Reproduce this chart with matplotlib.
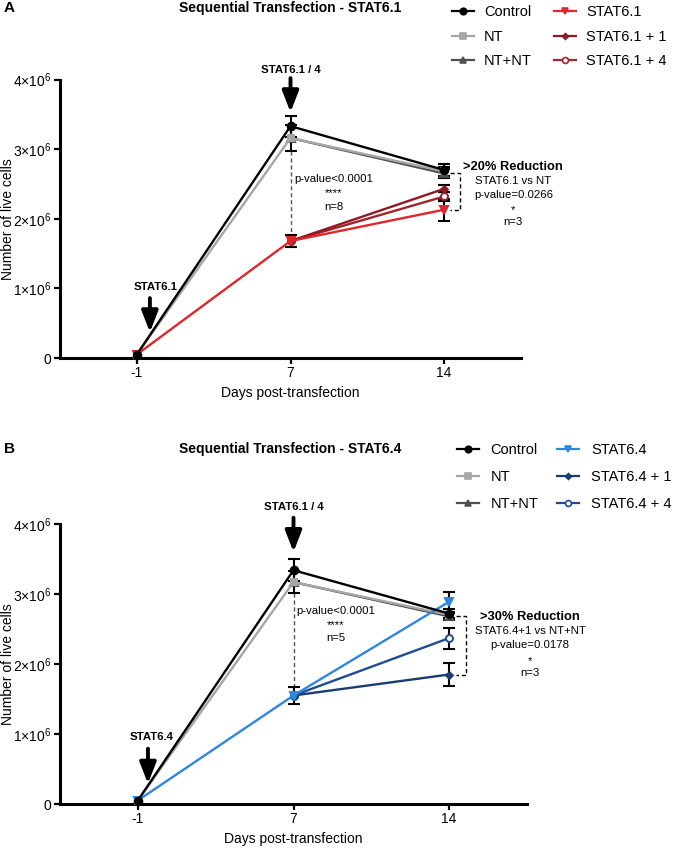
import numpy as np
import matplotlib
matplotlib.use("Agg")
import matplotlib.pyplot as plt
from matplotlib.lines import Line2D

plt.rcParams['font.family'] = ['Liberation Sans', 'DejaVu Sans']
plt.rcParams['mathtext.fontset'] = 'custom'
plt.rcParams['mathtext.rm'] = 'Liberation Sans'
plt.rcParams['mathtext.it'] = 'Liberation Sans:italic'
plt.rcParams['mathtext.bf'] = 'Liberation Sans:bold'

# ---------------- data ----------------
days = ["-1", "7", "14"]
ytick_vals = [0, 1e6, 2e6, 3e6, 4e6]
ytick_labels = ["0", "1×10$^{6}$", "2×10$^{6}$", "3×10$^{6}$", "4×10$^{6}$"]

# Panel A (STAT6.1)
a_control = [0.05e6, 3.33e6, 2.70e6]
a_control_err = [0, 0.15e6, 0.08e6]
a_nt = [0.05e6, 3.16e6, 2.68e6]
a_nt_err = [0, 0.18e6, 0.06e6]
a_ntnt = [np.nan, 3.16e6, 2.65e6]
a_ntnt_err = [0, 0, 0.06e6]
a_s1 = [0.05e6, 1.68e6, 2.13e6]
a_s1_err = [0, 0.08e6, 0.16e6]
a_s1p1 = [np.nan, 1.68e6, 2.43e6]
a_s1p1_err = [0, 0, 0.05e6]
a_s1p4 = [np.nan, 1.68e6, 2.32e6]
a_s1p4_err = [0, 0, 0.06e6]

# Panel B (STAT6.4)
b_control = [0.05e6, 3.34e6, 2.72e6]
b_control_err = [0, 0.16e6, 0.06e6]
b_nt = [0.05e6, 3.17e6, 2.70e6]
b_nt_err = [0, 0.16e6, 0.05e6]
b_ntnt = [np.nan, 3.17e6, 2.68e6]
b_ntnt_err = [0, 0, 0.05e6]
b_s4 = [0.05e6, 1.55e6, 2.89e6]
b_s4_err = [0, 0.12e6, 0.14e6]
b_s4p1 = [np.nan, 1.55e6, 1.85e6]
b_s4p1_err = [0, 0, 0.17e6]
b_s4p4 = [np.nan, 1.55e6, 2.37e6]
b_s4p4_err = [0, 0, 0.15e6]

W, H = 673, 850
fig = plt.figure(figsize=(W / 100, H / 100), dpi=100)


def px_axes(l, r, t, b):
    return fig.add_axes([l / W, 1 - b / H, (r - l) / W, (b - t) / H])


def draw_series(ax, y, err, color, marker, label, mfc=None, ms=5, z=3):
    x = np.arange(len(days))
    y = np.asarray(y, float)
    err = np.asarray(err, float)
    m = err > 0
    if m.any():
        ax.errorbar(x[m], y[m], yerr=err[m], fmt='none', ecolor='black', elinewidth=1.5,
                    capsize=4, capthick=1.5, zorder=z - 0.5, clip_on=False)
    ax.plot(x, y, color=color, lw=1.7, marker=marker, ms=ms,
            mfc=mfc if mfc else color, mec=color, mew=1.4, zorder=z, clip_on=False)
    return Line2D([], [], color=color, lw=1.6, marker=marker, ms=ms * 0.85,
                  mfc=mfc if mfc else color, mec=color, mew=1.2, label=label)


def style_axes(ax):
    ax.set_xlim(-0.5, 2.5)
    ax.set_ylim(0, 4e6)
    for s in ['top', 'right']:
        ax.spines[s].set_visible(False)
    for s in ['left', 'bottom']:
        ax.spines[s].set_linewidth(2.2)
    ax.set_xticks(range(len(days)))
    ax.set_xticklabels(days)
    ax.set_yticks(ytick_vals)
    ax.set_yticklabels(ytick_labels)
    ax.tick_params(length=4, width=1.6, labelsize=10, pad=2)
    ax.set_ylabel("Number of live cells", fontsize=10)
    ax.set_xlabel("Days post-transfection", fontsize=10, labelpad=4)
    ax.yaxis.set_label_coords(-(60 - 15) / (ax.get_position().width * W), 0.5)


def arrow(ax, x, ytip, ytail):
    ax.annotate("", xy=(x, ytip), xytext=(x, ytail),
                arrowprops=dict(arrowstyle='-|>,head_width=0.33,head_length=0.85',
                                lw=2.8, color='black', mutation_scale=15,
                                shrinkA=0, shrinkB=0),
                annotation_clip=False)


# ---------------- Panel A ----------------
axA = px_axes(60, 521, 79.5, 358)
red = '#E0262B'
dred = '#8E1B22'
mred = '#A3232C'
sA = [
    (a_ntnt, a_ntnt_err, '#505050', '^', 'NT+NT', None, 5.5, 3.1),
    (a_nt, a_nt_err, '#A6A6A6', 's', 'NT', None, 5, 3.2),
    (a_control, a_control_err, 'black', 'o', 'Control', None, 5.5, 3.5),
    (a_s1p4, a_s1p4_err, mred, 'o', 'STAT6.1 + 4', 'white', 5, 3.3),
    (a_s1p1, a_s1p1_err, dred, 'D', 'STAT6.1 + 1', None, 3.5, 3.3),
    (a_s1, a_s1_err, red, 'v', 'STAT6.1', None, 5.5, 3.4),
]
hA = {s[4]: draw_series(axA, s[0], s[1], s[2], s[3], s[4], s[5], s[6], s[7]) for s in sA}
style_axes(axA)
orderA = ['Control', 'NT', 'NT+NT', 'STAT6.1', 'STAT6.1 + 1', 'STAT6.1 + 4']
fig.legend([hA[k] for k in orderA], orderA, loc='upper left',
           bbox_to_anchor=(452 / W, 1 - 5 / H), ncol=2, frameon=False,
           fontsize=10.5, handlelength=1.5, handletextpad=0.7,
           columnspacing=1.5, labelspacing=0.73, borderpad=0, borderaxespad=0)

fig.text(290 / W, 1 - 8 / H, "Sequential Transfection - STAT6.1", ha='center', va='center',
         fontsize=10, fontweight='bold')
fig.text(4 / W, 1 - 8 / H, "A", ha='left', va='center', fontsize=11, fontweight='bold')

# arrows
arrow(axA, 0.085, 0.37e6, 0.86e6)
axA.text(0.12, 1.02e6, "STAT6.1", ha='center', va='center', fontsize=8.2, fontweight='bold')
arrow(axA, 1, 3.53e6, 4.02e6)
axA.text(1, 4.13e6, "STAT6.1 / 4", ha='center', va='center', fontsize=8.2, fontweight='bold')

# day 7 comparison
axA.plot([1, 1], [a_nt[1] - a_nt_err[1], a_s1[1] + a_s1_err[1]], ls=(0, (3, 2)),
         color='#555555', lw=1, zorder=2)
axA.text(1.28, 2.57e6, "p-value<0.0001", ha='center', va='center', fontsize=8.2)
axA.text(1.28, 2.37e6, "****", ha='center', va='center', fontsize=8.2)
axA.text(1.28, 2.17e6, "n=8", ha='center', va='center', fontsize=8.2)

# day 14 bracket
bx0, bx1 = 2.04, 2.10
axA.plot([bx0, bx1, bx1, bx0], [a_ntnt[2], a_ntnt[2], a_s1[2], a_s1[2]],
         ls=(0, (3, 2)), color='black', lw=1, clip_on=False, zorder=2)
axA.text(2.45, 2.74e6, ">20% Reduction", ha='center', va='center', fontsize=9.3, fontweight='bold')
axA.text(2.45, 2.54e6, "STAT6.1 vs NT", ha='center', va='center', fontsize=8.2)
axA.text(2.45, 2.34e6, "p-value=0.0266", ha='center', va='center', fontsize=8.2)
axA.text(2.45, 2.12e6, "*", ha='center', va='center', fontsize=8.2)
axA.text(2.45, 1.95e6, "n=3", ha='center', va='center', fontsize=8.2)

# ---------------- Panel B ----------------
axB = px_axes(60, 527, 524, 804)
blue = '#2F86E0'
navy = '#1A3C74'
mblue = '#1F4C8F'
sB = [
    (b_ntnt, b_ntnt_err, '#505050', '^', 'NT+NT', None, 5.5, 3.1),
    (b_nt, b_nt_err, '#A6A6A6', 's', 'NT', None, 5, 3.2),
    (b_control, b_control_err, 'black', 'o', 'Control', None, 5.5, 3.5),
    (b_s4p4, b_s4p4_err, mblue, 'o', 'STAT6.4 + 4', 'white', 5, 3.3),
    (b_s4p1, b_s4p1_err, navy, 'D', 'STAT6.4 + 1', None, 3.5, 3.3),
    (b_s4, b_s4_err, blue, 'v', 'STAT6.4', None, 5.5, 3.4),
]
hB = {s[4]: draw_series(axB, s[0], s[1], s[2], s[3], s[4], s[5], s[6], s[7]) for s in sB}
style_axes(axB)
orderB = ['Control', 'NT', 'NT+NT', 'STAT6.4', 'STAT6.4 + 1', 'STAT6.4 + 4']
fig.legend([hB[k] for k in orderB], orderB, loc='upper left',
           bbox_to_anchor=(457 / W, 1 - 443 / H), ncol=2, frameon=False,
           fontsize=10.5, handlelength=1.5, handletextpad=0.8,
           columnspacing=1.3, labelspacing=0.9, borderpad=0, borderaxespad=0)

fig.text(290 / W, 1 - 449 / H, "Sequential Transfection - STAT6.4", ha='center', va='center',
         fontsize=10, fontweight='bold')
fig.text(4 / W, 1 - 449 / H, "B", ha='left', va='center', fontsize=11, fontweight='bold')

arrow(axB, 0.065, 0.29e6, 0.79e6)
axB.text(0.09, 0.95e6, "STAT6.4", ha='center', va='center', fontsize=8.2, fontweight='bold')
arrow(axB, 1, 3.60e6, 4.09e6)
axB.text(1, 4.24e6, "STAT6.1 / 4", ha='center', va='center', fontsize=8.2, fontweight='bold')

axB.plot([1, 1], [b_nt[1] - b_nt_err[1], b_s4[1] + b_s4_err[1]], ls=(0, (3, 2)),
         color='#555555', lw=1, zorder=2)
axB.text(1.27, 2.75e6, "p-value<0.0001", ha='center', va='center', fontsize=8.2)
axB.text(1.27, 2.56e6, "****", ha='center', va='center', fontsize=8.2)
axB.text(1.27, 2.37e6, "n=5", ha='center', va='center', fontsize=8.2)

bx0, bx1 = 2.045, 2.11
axB.plot([bx0, bx1, bx1, bx0], [b_ntnt[2], b_ntnt[2], b_s4p1[2], b_s4p1[2]],
         ls=(0, (3, 2)), color='black', lw=1, clip_on=False, zorder=2)
axB.text(2.52, 2.67e6, ">30% Reduction", ha='center', va='center', fontsize=9.3, fontweight='bold')
axB.text(2.52, 2.47e6, "STAT6.4+1 vs NT+NT", ha='center', va='center', fontsize=8.2)
axB.text(2.52, 2.27e6, "p-value=0.0178", ha='center', va='center', fontsize=8.2)
axB.text(2.52, 2.04e6, "*", ha='center', va='center', fontsize=8.2)
axB.text(2.52, 1.87e6, "n=3", ha='center', va='center', fontsize=8.2)

fig.savefig("out.png", dpi=100)
